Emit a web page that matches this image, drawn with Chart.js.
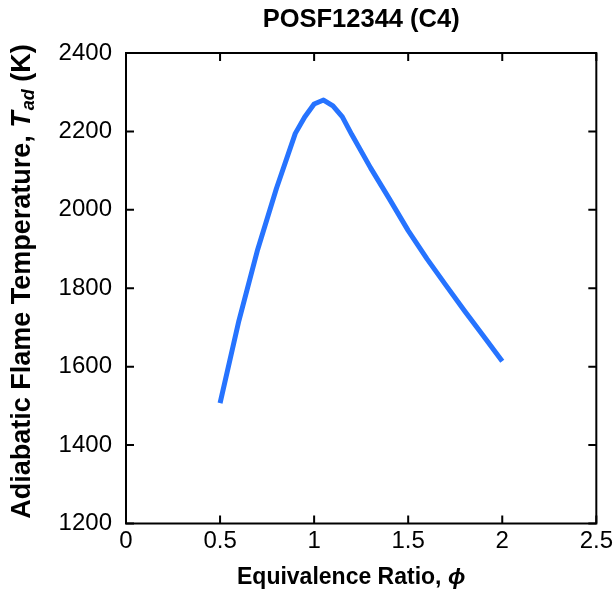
<!DOCTYPE html>
<html>
<head>
<meta charset="utf-8">
<script src="https://cdn.jsdelivr.net/npm/chart.js@4"></script>
<style>
  html, body { margin: 0; padding: 0; background: #fff; }
  #wrap { width: 616px; height: 597px; }
</style>
</head>
<body>
<div id="wrap"><canvas id="c" width="616" height="597"></canvas></div>
<script>
// ---- data ----
const chartTitle = "POSF12344 (C4)";
const xTitle = "Equivalence Ratio, ";
const xSymbol = "\u03D5";
const yTitleMain = "Adiabatic Flame Temperature, ";
const yTitleSym = "T";
const yTitleSub = "ad";
const yTitleUnit = " (K)";
const phi = [0.5, 0.6, 0.7, 0.8, 0.9, 0.95, 1.0, 1.05, 1.1, 1.15, 1.2, 1.3, 1.4, 1.5, 1.6, 1.7, 1.8, 1.9, 2.0];
const tad = [1507, 1717, 1899, 2055, 2195, 2237, 2270, 2280, 2265, 2237, 2192, 2107, 2028, 1947, 1875, 1808, 1742, 1678, 1614];
const xTicks = [0, 0.5, 1, 1.5, 2, 2.5];
const xTickLabels = ["0", "0.5", "1", "1.5", "2", "2.5"];
const yTicks = [1200, 1400, 1600, 1800, 2000, 2200, 2400];
const yTickLabels = ["1200", "1400", "1600", "1800", "2000", "2200", "2400"];

const FONT = "'Liberation Sans', Arial, Helvetica, sans-serif";
const points = phi.map((x, i) => ({ x: x, y: tad[i] }));

const framePlugin = {
  id: 'frame',
  afterDraw(chart) {
    const { ctx, chartArea: a, scales } = chart;
    ctx.save();
    ctx.strokeStyle = '#000';
    ctx.lineWidth = 2;
    ctx.strokeRect(a.left, a.top, a.right - a.left, a.bottom - a.top);
    const tl = 8;
    ctx.beginPath();
    xTicks.forEach(v => {
      const px = scales.x.getPixelForValue(v);
      ctx.moveTo(px, a.bottom); ctx.lineTo(px, a.bottom - tl);
      ctx.moveTo(px, a.top); ctx.lineTo(px, a.top + tl);
    });
    yTicks.forEach(v => {
      const py = scales.y.getPixelForValue(v);
      ctx.moveTo(a.left, py); ctx.lineTo(a.left + tl, py);
      ctx.moveTo(a.right, py); ctx.lineTo(a.right - tl, py);
    });
    ctx.stroke();

    ctx.fillStyle = '#000';
    ctx.textBaseline = 'middle';
    // chart title
    ctx.font = `bold 25.5px ${FONT}`;
    ctx.textAlign = 'center';
    ctx.fillText(chartTitle, (a.left + a.right) / 2, 20);

    // x title
    ctx.textAlign = 'left';
    const fx = `bold 23px ${FONT}`;
    const fxi = `italic bold 23px ${FONT}`;
    ctx.font = fx; const w1 = ctx.measureText(xTitle).width;
    ctx.font = fxi; const w2 = ctx.measureText(xSymbol).width;
    let sx = (a.left + a.right) / 2 - (w1 + w2) / 2 - 10;
    const sy = 578;
    ctx.font = fx; ctx.fillText(xTitle, sx, sy);
    ctx.font = fxi; ctx.fillText(xSymbol, sx + w1, sy);

    // y title (rotated)
    ctx.save();
    const cy = 282;
    ctx.translate(23, cy);
    ctx.rotate(-Math.PI / 2);
    const f1 = `bold 27px ${FONT}`;
    const f2 = `italic bold 27px ${FONT}`;
    const f3 = `italic bold 18px ${FONT}`;
    ctx.font = f1; const a1 = ctx.measureText(yTitleMain).width;
    ctx.font = f2; const a2 = ctx.measureText(yTitleSym).width;
    ctx.font = f3; const a3 = ctx.measureText(yTitleSub).width;
    ctx.font = f1; const a4 = ctx.measureText(yTitleUnit).width;
    let x0 = -(a1 + a2 + a3 + a4) / 2;
    ctx.font = f1; ctx.fillText(yTitleMain, x0, 0); x0 += a1;
    ctx.font = f2; ctx.fillText(yTitleSym, x0, 0); x0 += a2 + 1;
    ctx.font = f3; ctx.fillText(yTitleSub, x0, 6); x0 += a3;
    ctx.font = f1; ctx.fillText(yTitleUnit, x0, 0);
    ctx.restore();
    ctx.restore();
  }
};

new Chart(document.getElementById('c'), {
  type: 'scatter',
  data: {
    datasets: [{
      data: points,
      showLine: true,
      borderColor: 'rgb(38,115,255)',
      backgroundColor: 'rgb(38,115,255)',
      borderWidth: 5,
      pointRadius: 0,
      tension: 0,
      borderCapStyle: 'butt',
      borderJoinStyle: 'round'
    }]
  },
  options: {
    responsive: false,
    animation: false,
    devicePixelRatio: 1,
    layout: { padding: { top: 53, right: 18, bottom: 0, left: 0 } },
    plugins: { legend: { display: false }, title: { display: false }, tooltip: { enabled: false } },
    scales: {
      x: {
        type: 'linear', min: 0, max: 2.5,
        afterBuildTicks: s => { s.ticks = xTicks.map(v => ({ value: v })); },
        afterFit: s => { s.height = 73.5; },
        grid: { display: false, drawTicks: false }, border: { display: false },
        ticks: {
          color: '#000', font: { family: FONT, size: 24 }, padding: 3, maxRotation: 0, autoSkip: false,
          callback: (v, i) => xTickLabels[i]
        }
      },
      y: {
        type: 'linear', min: 1200, max: 2400,
        afterBuildTicks: s => { s.ticks = yTicks.map(v => ({ value: v })); },
        afterFit: s => { s.width = 126; },
        grid: { display: false, drawTicks: false }, border: { display: false },
        ticks: {
          color: '#000', font: { family: FONT, size: 24 }, padding: 14, autoSkip: false,
          callback: (v, i) => yTickLabels[i]
        }
      }
    }
  },
  plugins: [framePlugin]
});
</script>
</body>
</html>
